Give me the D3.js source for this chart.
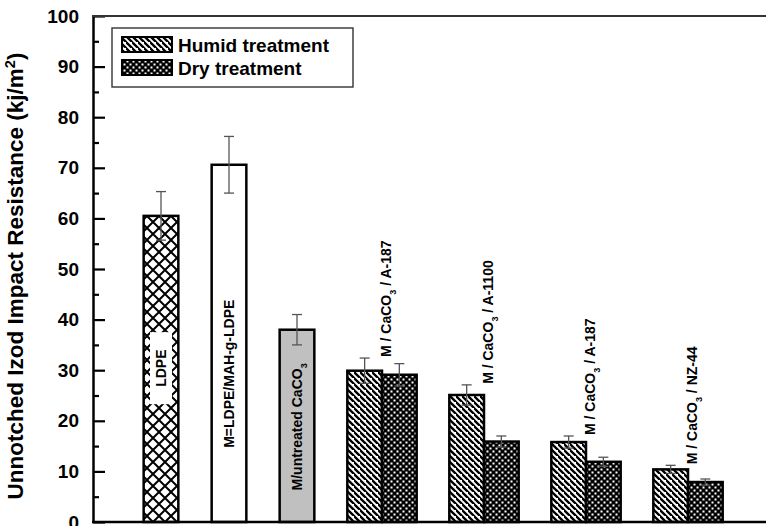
<!DOCTYPE html>
<html>
<head>
<meta charset="utf-8">
<script src="https://cdn.jsdelivr.net/npm/d3@7"></script>
<style>
body { margin: 0; background: #fff; }
text { font-family: Arial, "Liberation Sans", sans-serif; font-weight: bold; fill: #000; }
</style>
</head>
<body>
<div id="chart"></div>
<script>
// single bars (no treatment)
var singleNames = ["LDPE", "M=LDPE/MAH-g-LDPE", "M/untreated CaCO3"];
var singleValues = [60.5, 70.6, 38.0];
var singleErrors = [4.8, 5.6, 3.0];

// treated composites, humid vs dry
var groupNames = ["M / CaCO3 / A-187", "M / CaCO3 / A-1100", "M / CaCO3 / A-187", "M / CaCO3 / NZ-44"];
var humidValues = [29.9, 25.1, 15.8, 10.4];
var humidErrors = [2.5, 2.0, 1.2, 0.8];
var dryValues = [29.1, 15.9, 11.9, 7.9];
var dryErrors = [2.2, 1.1, 0.9, 0.6];

var seriesNames = ["Humid treatment", "Dry treatment"];
var yTicks = [0, 10, 20, 30, 40, 50, 60, 70, 80, 90, 100];
var yMinorTicks = [5, 15, 25, 35, 45, 55, 65, 75, 85, 95];

function init() {
    var w = 766, h = 526;
    var svg = d3.select("#chart").append("svg")
        .attr("width", w).attr("height", h);

    var x = d3.scaleLinear().domain([0, 10]).range([93, 773]);
    var y = d3.scaleLinear().domain([0, 100]).range([522, 16]);
    var bw = 0.51; // bar width in x units

    // fill patterns
    var defs = svg.append("defs");
    var p1 = defs.append("pattern").attr("id", "humid")
        .attr("patternUnits", "userSpaceOnUse").attr("width", 6).attr("height", 6);
    p1.append("rect").attr("width", 6).attr("height", 6).attr("fill", "#fff");
    p1.append("path").attr("d", "M-1,-1L7,7M-4,2L2,8M4,-4L10,2")
        .attr("stroke", "#000").attr("stroke-width", 2.3);

    var p2 = defs.append("pattern").attr("id", "dry")
        .attr("patternUnits", "userSpaceOnUse").attr("width", 6).attr("height", 6);
    p2.append("rect").attr("width", 6).attr("height", 6).attr("fill", "#000");
    p2.append("rect").attr("x", 0.5).attr("y", 0.5).attr("width", 2).attr("height", 2).attr("fill", "#fff");
    p2.append("rect").attr("x", 3.5).attr("y", 3.5).attr("width", 2).attr("height", 2).attr("fill", "#fff");

    var p3 = defs.append("pattern").attr("id", "cross")
        .attr("patternUnits", "userSpaceOnUse").attr("width", 12).attr("height", 12)
        .attr("x", 3);
    p3.append("rect").attr("width", 12).attr("height", 12).attr("fill", "#fff");
    p3.append("path").attr("d", "M0,0L12,12M12,0L0,12")
        .attr("stroke", "#000").attr("stroke-width", 2);

    var singleFills = ["url(#cross)", "#fff", "#c0c0c0"];

    // build bar records from the arrays
    var bars = [];
    singleValues.forEach(function(v, i) {
        bars.push({pos: i + 1, v: v, e: singleErrors[i], fill: singleFills[i]});
    });
    humidValues.forEach(function(v, j) {
        var c = 4.25 + 1.5 * j;
        bars.push({pos: c - bw / 2, v: v, e: humidErrors[j], fill: "url(#humid)"});
        bars.push({pos: c + bw / 2, v: dryValues[j], e: dryErrors[j], fill: "url(#dry)"});
    });

    svg.selectAll("rect.bar").data(bars).enter().append("rect")
        .attr("class", "bar")
        .attr("x", function(d) { return x(d.pos - bw / 2); })
        .attr("width", function(d) { return x(bw) - x(0); })
        .attr("y", function(d) { return y(d.v); })
        .attr("height", function(d) { return y(0) - y(d.v); })
        .attr("fill", function(d) { return d.fill; })
        .attr("stroke", "#000").attr("stroke-width", 2.5);

    // error bars
    var eb = svg.selectAll("g.err").data(bars).enter().append("g")
        .attr("stroke", "#555").attr("stroke-width", 1.3);
    eb.append("line")
        .attr("x1", function(d) { return x(d.pos); }).attr("x2", function(d) { return x(d.pos); })
        .attr("y1", function(d) { return y(d.v + d.e); }).attr("y2", function(d) { return y(d.v - d.e); });
    eb.append("line")
        .attr("x1", function(d) { return x(d.pos) - 5; }).attr("x2", function(d) { return x(d.pos) + 5; })
        .attr("y1", function(d) { return y(d.v + d.e); }).attr("y2", function(d) { return y(d.v + d.e); });
    eb.append("line")
        .attr("x1", function(d) { return x(d.pos) - 5; }).attr("x2", function(d) { return x(d.pos) + 5; })
        .attr("y1", function(d) { return y(d.v - d.e); }).attr("y2", function(d) { return y(d.v - d.e); });

    // text helper: writes CaCO3 with a subscript 3
    function writeLabel(t, s) {
        var parts = s.split("CaCO3");
        t.append("tspan").text(parts[0]);
        if (parts.length > 1) {
            t.append("tspan").text("CaCO");
            t.append("tspan").text("3").attr("baseline-shift", "sub").attr("font-size", "65%");
            t.append("tspan").text(parts[1]);
        }
    }

    // labels inside single bars (centre height, in y units)
    var innerLabelAt = [30.4, 29.3, 18.8];
    singleNames.forEach(function(s, i) {
        var cx = x(i + 1), cy = y(innerLabelAt[i]);
        if (i === 0) {
            svg.append("rect").attr("x", cx - 11).attr("y", cy - 36)
                .attr("width", 22).attr("height", 72).attr("fill", "#fff");
        }
        var t = svg.append("text")
            .attr("transform", "translate(" + (cx + 5) + "," + cy + ") rotate(-90)")
            .attr("text-anchor", "middle").attr("font-size", 14);
        writeLabel(t, s);
    });

    // labels above treated groups
    groupNames.forEach(function(s, j) {
        var c = 4.25 + 1.5 * j;
        var t = svg.append("text")
            .attr("transform", "translate(" + (x(c) + 9) + "," + (y(humidValues[j] + humidErrors[j]) - 1) + ") rotate(-90)")
            .attr("text-anchor", "start").attr("font-size", 14);
        writeLabel(t, s);
    });

    // y axis with inward ticks
    var yAxis = svg.append("g").attr("transform", "translate(93,0)")
        .call(d3.axisLeft(y).tickValues(yTicks).tickSize(-12).tickSizeOuter(0).tickPadding(14));
    yAxis.select(".domain").attr("stroke-width", 2.5);
    yAxis.selectAll(".tick line").attr("stroke-width", 2.2);
    yAxis.selectAll(".tick text").attr("font-size", 19)
        .attr("font-family", "Arial, 'Liberation Sans', sans-serif").attr("font-weight", "bold");
    var yMinor = svg.append("g").attr("transform", "translate(93,0)")
        .call(d3.axisLeft(y).tickValues(yMinorTicks).tickSize(-6).tickFormat(""));
    yMinor.select(".domain").remove();
    yMinor.selectAll(".tick line").attr("stroke-width", 2.2);

    // frame lines (top and bottom run off the right edge)
    svg.append("line").attr("x1", 92).attr("x2", w).attr("y1", y(100)).attr("y2", y(100))
        .attr("stroke", "#333").attr("stroke-width", 1.8);
    svg.append("line").attr("x1", 92).attr("x2", w).attr("y1", y(0)).attr("y2", y(0))
        .attr("stroke", "#000").attr("stroke-width", 2.5);

    // y title
    var yt = svg.append("text")
        .attr("transform", "translate(23,276) rotate(-90)")
        .attr("text-anchor", "middle").attr("font-size", 22.5);
    yt.append("tspan").text("Unnotched Izod Impact Resistance (kj/m");
    yt.append("tspan").text("2").attr("baseline-shift", "super").attr("font-size", "65%");
    yt.append("tspan").text(")");

    // legend
    var lg = svg.append("g");
    lg.append("rect").attr("x", 112).attr("y", 28).attr("width", 241).attr("height", 59)
        .attr("fill", "#fff").attr("stroke", "#333").attr("stroke-width", 1.4);
    var swatch = ["url(#humid)", "url(#dry)"];
    seriesNames.forEach(function(s, i) {
        lg.append("rect").attr("x", 122).attr("y", 37 + i * 23).attr("width", 50).attr("height", 15)
            .attr("fill", swatch[i]).attr("stroke", "#000").attr("stroke-width", 2);
        lg.append("text").attr("x", 178).attr("y", 45 + i * 23).attr("dy", "0.36em")
            .attr("font-size", 19).text(s);
    });
}
window.onload = init;
</script>
</body>
</html>
